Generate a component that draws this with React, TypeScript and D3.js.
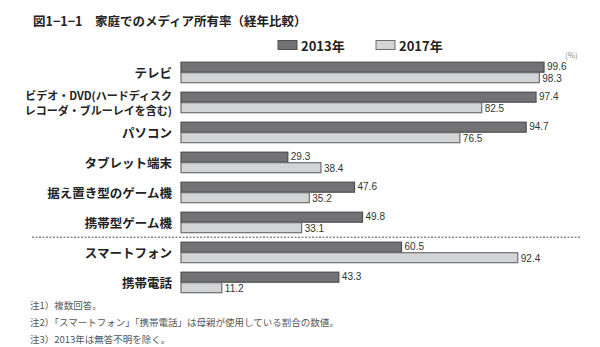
import React from "react";
import * as d3 from "d3";

const categories = [
  ["テレビ"],
  ["ビデオ・DVD(ハードディスク", "レコーダ・ブルーレイを含む)"],
  ["パソコン"],
  ["タブレット端末"],
  ["据え置き型のゲーム機"],
  ["携帯型ゲーム機"],
  ["スマートフォン"],
  ["携帯電話"],
];
const keys = categories.map((c) => c.join(""));
const series = ["2013年", "2017年"];
const values2013 = [99.6, 97.4, 94.7, 29.3, 47.6, 49.8, 60.5, 43.3];
const values2017 = [98.3, 82.5, 76.5, 38.4, 35.2, 33.1, 92.4, 11.2];
const notes = [
  "注1）複数回答。",
  "注2）「スマートフォン」「携帯電話」は母親が使用している割合の数値。",
  "注3）2013年は無答不明を除く。",
];
const title = "図1−1−1　家庭でのメディア所有率（経年比較）";

const FONT = "'Noto Sans CJK JP', 'Noto Sans', sans-serif";
const NUMFONT = "'Liberation Sans', Arial, sans-serif";
const fills = ["#737375", "#d3d4d6"];
const strokes = ["#4e4e50", "#6e6e70"];

export default function App() {
  const W = 600, H = 347;
  const x = d3.scaleLinear().domain([0, 100]).range([181, 545.5]);
  const y = d3.scaleBand<string>().domain(keys).range([57.2, 297.2]).paddingInner(0.3).paddingOuter(0.15);
  const ys = d3.scaleBand<string>().domain(series).range([0, y.bandwidth()]);
  const data = [values2013, values2017];
  const dashY = ((y(keys[5]) as number) + y.bandwidth() + (y(keys[6]) as number)) / 2;

  return (
    <svg width={W} height={H} style={{ position: "absolute", left: 0, top: 0, background: "#fff" }} fontFamily={FONT}>
      <text x={33} y={20} dominantBaseline="central" fontSize={12.5} fontWeight="bold" fill="#222">{title}</text>
      {series.map((s, i) => {
        const bx = i === 0 ? 278 : 376;
        return (
          <g key={s}>
            <rect x={bx} y={40.5} width={19} height={9} fill={fills[i]} stroke={strokes[i]} strokeWidth={1} />
            <text x={bx + 23} y={45} dominantBaseline="central" fontSize={13} fontWeight="bold" fill="#222">{s}</text>
          </g>
        );
      })}
      <text x={565} y={54} dominantBaseline="central" fontSize={8} fill="#888">(%)</text>
      {keys.map((k, ci) => {
        const gy = y(k) as number;
        const lines = categories[ci];
        const cy = gy + y.bandwidth() / 2;
        return (
          <g key={k}>
            {lines.map((ln, li) => (
              <text key={li} x={172} y={lines.length === 1 ? cy : cy + (li - 0.5) * 15}
                dominantBaseline="central" textAnchor="end"
                fontSize={lines.length === 1 ? 12.5 : 11} fontWeight="bold" fill="#222">{ln}</text>
            ))}
            {series.map((s, si) => {
              const v = data[si][ci];
              const by = gy + (ys(s) as number);
              return (
                <g key={s}>
                  <rect x={x(0)} y={by + 0.5} width={x(v) - x(0)} height={ys.bandwidth() - 0.5}
                    fill={fills[si]} stroke={strokes[si]} strokeWidth={1.2} />
                  <text x={x(v) + 3} y={by + ys.bandwidth() / 2 + (si === 0 ? -0.5 : 1.2)} dominantBaseline="central"
                    fontFamily={NUMFONT} fontSize={10} fill="#333">{v.toFixed(1)}</text>
                </g>
              );
            })}
          </g>
        );
      })}
      <line x1={32} x2={580} y1={dashY} y2={dashY} stroke="#555" strokeWidth={1} strokeDasharray="2,1.5" />
      {notes.map((n, i) => (
        <text key={i} x={30} y={305 + i * 17} dominantBaseline="central" fontSize={9.5} fill="#555">{n}</text>
      ))}
    </svg>
  );
}
